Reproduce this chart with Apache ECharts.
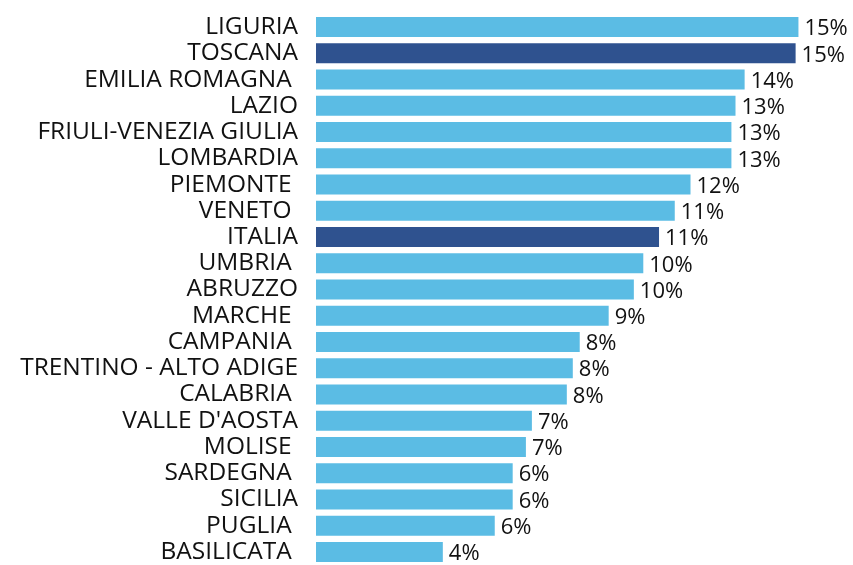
<!DOCTYPE html>
<html>
<head>
<meta charset="utf-8">
<script src="https://cdn.jsdelivr.net/npm/echarts@6/dist/echarts.min.js"></script>
<style>
  html, body { margin: 0; padding: 0; background: #fff; }
  #chart { width: 853px; height: 565px; }
</style>
</head>
<body>
<div id="chart"></div>
<script>
// regioni, dall'alto verso il basso
var regioni = ['LIGURIA', 'TOSCANA', 'EMILIA ROMAGNA ', 'LAZIO', 'FRIULI-VENEZIA GIULIA',
  'LOMBARDIA', 'PIEMONTE ', 'VENETO ', 'ITALIA', 'UMBRIA ', 'ABRUZZO', 'MARCHE ',
  'CAMPANIA ', 'TRENTINO - ALTO ADIGE', 'CALABRIA ', "VALLE D'AOSTA", 'MOLISE ',
  'SARDEGNA ', 'SICILIA', 'PUGLIA ', 'BASILICATA ']
var valori = [15.33, 15.24, 13.62, 13.33, 13.2, 13.2, 11.9, 11.4, 10.9, 10.4, 10.1, 9.3,
  8.38, 8.16, 7.97, 6.86, 6.67, 6.25, 6.25, 5.68, 4.03]
var evidenziate = ['TOSCANA', 'ITALIA']

var chiaro = '#5bbce4'
var scuro = '#2f528f'

var myChart = echarts.init(document.getElementById('chart'))
myChart.setOption({
  animation: false,
  grid: {
    left: 316,
    top: 14,
    width: 535,
    height: 552
  },
  xAxis: {
    type: 'value',
    min: 0,
    max: 17,
    show: false
  },
  yAxis: {
    type: 'category',
    inverse: true,
    data: regioni,
    axisLine: { show: false },
    axisTick: { show: false },
    axisLabel: {
      interval: 0,
      margin: 18,
      color: '#111',
      fontFamily: 'Open Sans',
      fontSize: 24.5
    }
  },
  series: [
    {
      type: 'bar',
      barWidth: 20,
      data: valori.map(function (v, i) {
        return {
          value: v,
          itemStyle: { color: evidenziate.indexOf(regioni[i]) >= 0 ? scuro : chiaro }
        }
      }),
      label: {
        show: true,
        position: 'right',
        distance: 6,
        offset: [0, 2],
        color: '#111',
        fontFamily: 'Open Sans',
        fontSize: 22,
        formatter: function (p) { return Math.round(p.value) + '%' }
      }
    }
  ]
})
</script>
</body>
</html>
